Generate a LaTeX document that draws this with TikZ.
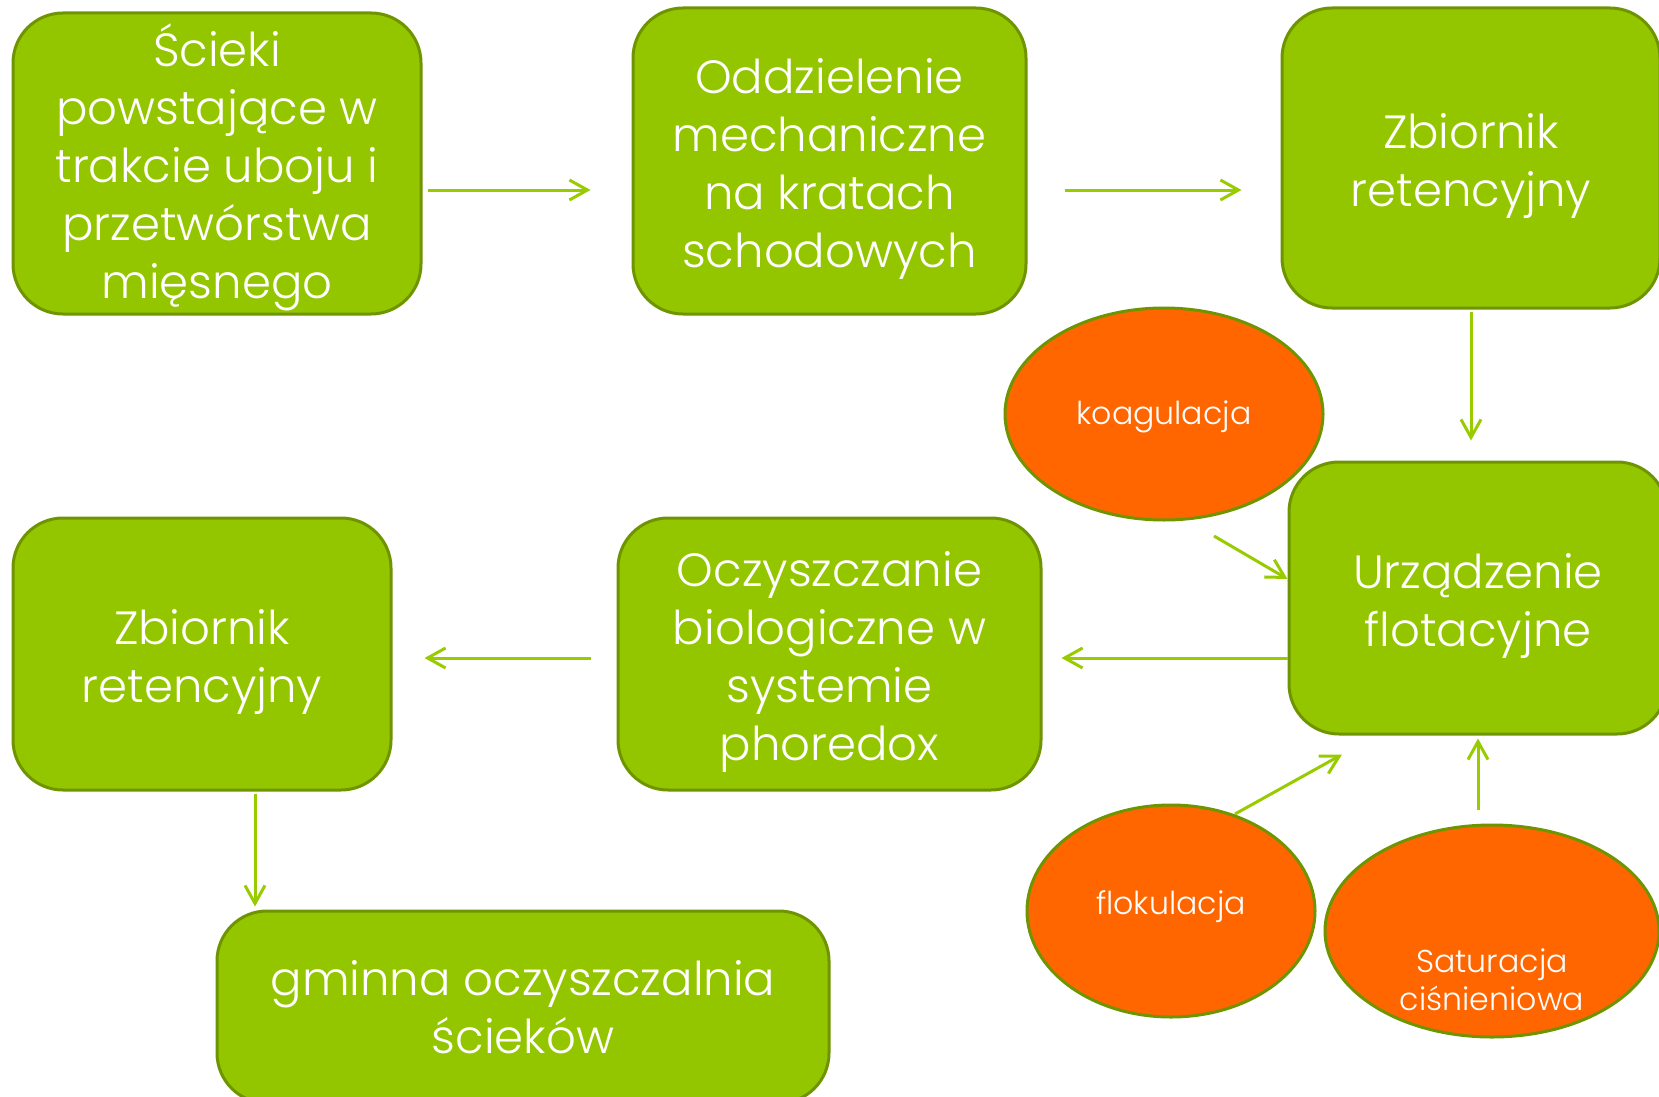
\documentclass[tikz,border=0pt]{standalone}
\usepackage{fontspec}
\setmainfont{Poppins Light}
\usetikzlibrary{arrows.meta,shapes.geometric}
\definecolor{BoxGreen}{HTML}{94C600}
\definecolor{EdgeGreen}{HTML}{6E9400}
\definecolor{ArrowGreen}{HTML}{99CC00}
\definecolor{BlobOrange}{HTML}{FF6600}
\newcommand{\toppad}{\rule{0pt}{25.5pt}}
\tikzset{
	stage/.style={rectangle, rounded corners=25pt, draw=EdgeGreen, line width=1.5pt, fill=BoxGreen, text=white, align=center, inner sep=0pt, font=\fontsize{23.3}{29}\selectfont},
	agent/.style={ellipse, draw=EdgeGreen, line width=1.5pt, fill=BlobOrange, text=white, align=center, inner sep=0pt, minimum height=106pt, font=\fontsize{15.8}{19}\selectfont},
	flow/.style={draw=ArrowGreen, line width=1.5pt, -{Straight Barb[length=9pt,width=10pt]}}
}

\begin{document}
\begin{tikzpicture}[x=0.5pt, y=-0.5pt]
		\useasboundingbox (0,0) rectangle (1659,1097);
		
		% Rows of the arrows
		\coordinate (up) at (0,190);
		\coordinate (low) at (0,658);
		\coordinate (drop) at (255,0);
		
		% Boxes
		\node[stage, minimum width=204pt, minimum height=150.5pt] (b1) at (217,163.5) {\toppad Ścieki\\powstające w\\trakcie uboju i\\przetwórstwa\\mięsnego};
		\node[stage, minimum width=196.5pt, minimum height=153pt] (b2) at (829.5,161) {\toppad Oddzielenie\\mechaniczne\\na kratach\\schodowych};
		\node[stage, minimum width=189pt, minimum height=150pt] (b3) at (1471,158) {\toppad Zbiornik\\retencyjny};
		\node[stage, minimum width=189pt, minimum height=136pt] (b4) at (1478,598) {\toppad Urządzenie\\flotacyjne};
		\node[stage, minimum width=211.5pt, minimum height=136pt] (b5) at (829.5,654) {\toppad Oczyszczanie\\biologiczne w\\systemie\\phoredox};
		\node[stage, minimum width=189pt, minimum height=136pt] (b6) at (202,654) {\toppad Zbiornik\\retencyjny};
		\node[stage, minimum width=306pt, minimum height=96pt] (b7) at (523,1007) {gminna oczyszczalnia\\ścieków};
		
		% Ellipses
		\node[agent, minimum width=159pt] (koag) at (1164,414) {\raisebox{-1.5pt}[\height][\depth]{koagulacja}};
		\node[agent, minimum width=144pt] (flok) at (1171,911) {\raisebox{8pt}{flokulacja}};
		\node[agent, minimum width=167pt] (sat) at (1492,931) {};
		\node[text=white, align=center, font=\fontsize{15.8}{19}\selectfont] (satxt) at ([yshift=-24.5pt]sat.center) {Saturacja\\ciśnieniowa};
		
		% Arrows
		\draw[flow, shorten <=2.5pt, shorten >=20.5pt] (b1.east |- up) -- (b2.west |- up);
		\draw[flow, shorten <=18.5pt, shorten >=19.5pt] (b2.east |- up) -- (b3.west |- up);
		\draw[flow, shorten <=1pt, shorten >=10pt] (b3.south) -- (b3.south |- b4.north);
		\draw[flow] ([shift={(50,122)}]koag.center) -- ([yshift=9.5pt]b4.west);
		\draw[flow, shorten >=9.5pt] (b4.west |- low) -- (b5.east |- low);
		\draw[flow, shorten <=13pt, shorten >=16pt] (b5.west |- low) -- (b6.east |- low);
		\draw[flow, shorten <=1pt, shorten >=1.5pt] (b6.south -| drop) -- (b7.north -| drop);
		\draw[flow] ([shift={(64,-97)}]flok.center) -- ([shift={(-136,19)}]b4.south);
		\draw[flow, shorten >=1.5pt] ([shift={(-14,-14)}]sat.north) -- (b4.south);
	\end{tikzpicture}
\end{document}
